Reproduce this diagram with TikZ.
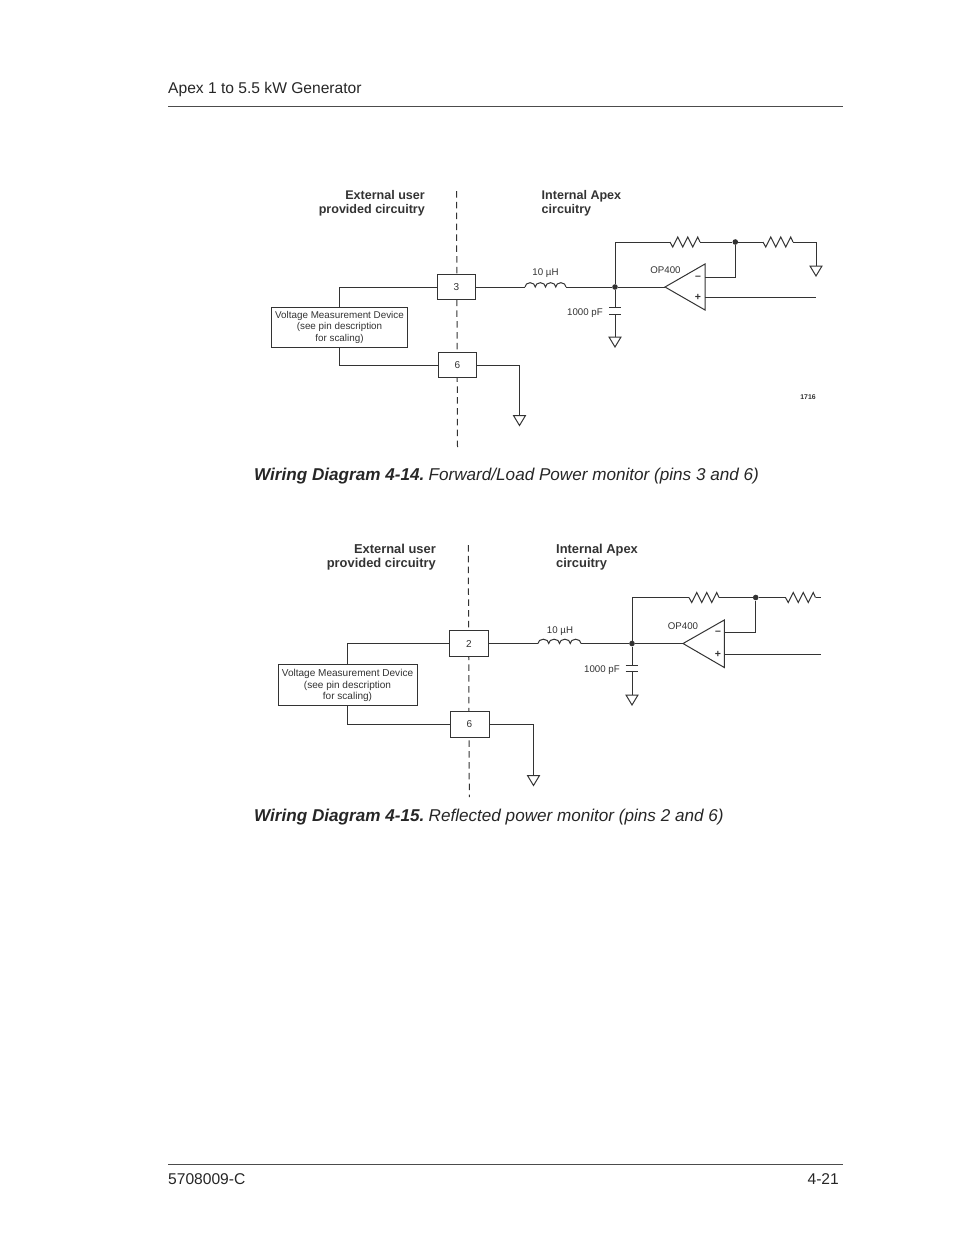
\documentclass[tikz,border=0pt]{standalone}
\usepackage{fontspec}
\setmainfont{Liberation Sans}
\usetikzlibrary{calc}
\definecolor{ink}{gray}{0.2}
\newcommand{\resist}[1]{(#1) -- ++(2.7,5) -- ++(5,-10) -- ++(5,10) -- ++(5,-10) -- ++(5,10) -- ++(5,-10) -- ++(2.3,5)}
\newcommand{\coil}[2]{(#1) arc[start angle=180,end angle=0,x radius=#2pt,y radius=4.3pt] arc[start angle=180,end angle=0,x radius=#2pt,y radius=4.3pt] arc[start angle=180,end angle=0,x radius=#2pt,y radius=4.3pt] arc[start angle=180,end angle=0,x radius=#2pt,y radius=4.3pt]}
\newcommand{\gnd}[1]{(#1) ++(-6,0) -- ++(12,0) -- ++(-6,10) -- cycle}
\tikzset{
 wire/.style={draw=ink,line width=1pt},
 fence/.style={draw=ink,line width=1pt,dash pattern=on 6.5pt off 4.35pt},
 pinbox/.style={draw=ink,line width=1pt,fill=white,inner sep=0pt,font=\fontsize{10}{11}\selectfont,text=ink},
 devbox/.style={draw=ink,line width=1pt,fill=white,inner sep=0pt,align=center,text=ink},
 devtext/.style={inner sep=0pt,align=center,text=ink},
 lab/.style={inner sep=0pt,font=\fontsize{9.7}{11}\selectfont,text=ink},
 sign/.style={inner sep=0pt,font=\fontsize{10.5}{11}\selectfont\bfseries,text=ink},
 headl/.style={inner sep=0pt,font=\fontsize{12.55}{14}\selectfont\bfseries,text=ink},
 headm/.style={inner sep=0pt,font=\fontsize{12.9}{14}\selectfont\bfseries,text=ink},
 pagetext/.style={inner sep=0pt,anchor=west,font=\fontsize{15.6}{17}\selectfont,text=black!85},
 captext/.style={inner sep=0pt,anchor=west,font=\fontsize{17.12}{19}\selectfont\itshape,text=black!85},
 rulex/.style={draw=black!70,line width=0.8pt},
 dot/.style={circle,fill=ink,inner sep=0pt,minimum size=5.6pt},
 opamp/.style={draw=ink,line width=1pt,fill=white}
}
\begin{document}
\begin{tikzpicture}[x=1pt,y=-1pt]
\useasboundingbox (0,0) rectangle (954,1235);
% page furniture
\node[pagetext] (hd) at (168,89) {Apex 1 to 5.5 kW Generator};
\coordinate (hl) at (168,106.5); \coordinate (hr) at (843,106.5);
\draw[rulex] (hl) -- (hr);
\coordinate (fl) at (168,1164); \coordinate (fr) at (843,1164);
\draw[rulex] (fl) -- (fr);
\node[pagetext] (fa) at (168,1179) {5708009-C};
\node[pagetext,anchor=east] (fb) at (839,1179) {4-21};
\node[captext] (c1) at (254,476) {\textbf{Wiring Diagram 4-14.}\hspace{-2pt} Forward/Load Power monitor (pins 3 and 6)};
\node[captext] (c2) at (254,817) {\textbf{Wiring Diagram 4-15.}\hspace{-2pt} Reflected power monitor (pins 2 and 6)};

% ---------- diagram 1
\node[headl,anchor=base east] (e1a) at (425,199.5) {External user};
\node[headl,anchor=base east] (e1b) at (425,213.5) {provided circuitry};
\node[headl,anchor=base west] (i1a) at (541.5,199.5) {Internal Apex};
\node[headl,anchor=base west] (i1b) at (541.5,213.5) {circuitry};
\coordinate (d1t) at (456.5,191); \coordinate (d1b) at (457.5,447);
\draw[fence] (d1t) -- (d1b);
\node[pinbox,minimum width=37.5pt,minimum height=25pt] (p3) at (456.5,287) {3};
\node[pinbox,minimum width=37.5pt,minimum height=25pt] (p6) at (457.3,365.4) {6};
\node[devbox,minimum width=136pt,minimum height=40pt] (vm) at (339.5,327.3) {};
\node[devtext,font=\fontsize{9.85}{11.3}\selectfont] (vmt) at (339.5,327.3) {Voltage Measurement Device\\(see pin description\\for scaling)};
\draw[wire] (p3.west) -| (vm.north);
\draw[wire] (vm.south) |- (p6.west);
\coordinate (g1) at (519.5,415.5);
\draw[wire] (p6.east) -| (g1);
\draw[wire] \gnd{g1};
\coordinate (l1a) at (525,287); \coordinate (l1b) at (566,287);
\draw[wire] (p3.east) -- (l1a);
\draw[wire] \coil{l1a}{5.125};
\node[dot] (n1) at (615,287) {};
\draw[wire] (l1b) -- (n1);
\coordinate (oa1t) at (705,264); \coordinate (oa1b) at (705,310); \coordinate (oa1o) at (665,287);
\draw[opamp] (oa1t) -- (oa1b) -- (oa1o) -- cycle;
\draw[wire] (n1) -- (oa1o);
\coordinate (r1a) at (670,242); \coordinate (r1b) at (700,242);
\coordinate (r2a) at (763,242); \coordinate (r2b) at (793,242);
\node[dot] (n2) at (735.3,242) {};
\draw[wire] (n1) |- (r1a);
\draw[wire] \resist{r1a};
\draw[wire] (r1b) -- (n2) -- (r2a);
\draw[wire] \resist{r2a};
\coordinate (g2) at (816,266);
\draw[wire] (r2b) -| (g2);
\draw[wire] \gnd{g2};
\coordinate (m1) at (705,277); \coordinate (q1) at (705,297); \coordinate (q1e) at (816,297);
\draw[wire] (m1) -| (n2);
\draw[wire] (q1) -- (q1e);
\coordinate (c1t) at (615,307); \coordinate (c1u) at (615,314); \coordinate (g3) at (615,337);
\draw[wire] (n1) -- (c1t);
\draw[wire] (c1u) -- (g3);
\draw[wire] (c1t) ++(-6,0) -- ++(12,0);
\draw[wire] (c1u) ++(-6,0) -- ++(12,0);
\draw[wire] \gnd{g3};
\node[lab] (t1a) at (545.5,273.5) {10 µH};
\node[lab,anchor=east] (t1b) at (603,313) {1000 pF};
\node[lab] (t1c) at (665.5,270) {OP400};
\node[sign] (t1d) at (698,277.5) {–};
\node[sign] (t1e) at (698,297) {+};
\node[inner sep=0pt,font=\fontsize{6.9}{8}\selectfont\bfseries,text=ink] (t1f) at (808,397.5) {1716};

% ---------- diagram 2
\node[headm,anchor=base east] (e2a) at (436,553.5) {External user};
\node[headm,anchor=base east] (e2b) at (436,567.7) {provided circuitry};
\node[headm,anchor=base west] (i2a) at (556,553.5) {Internal Apex};
\node[headm,anchor=base west] (i2b) at (556,567.7) {circuitry};
\coordinate (d2t) at (468.3,545); \coordinate (d2b) at (469.3,797);
\draw[fence] (d2t) -- (d2b);
\node[pinbox,minimum width=39pt,minimum height=26pt] (p2) at (468.8,643.5) {2};
\node[pinbox,minimum width=39pt,minimum height=26pt] (q6) at (469.5,724) {6};
\node[devbox,minimum width=139pt,minimum height=41pt] (vn) at (347.5,684.8) {};
\node[devtext,font=\fontsize{10.05}{11.5}\selectfont] (vnt) at (347.5,685.8) {Voltage Measurement Device\\(see pin description\\for scaling)};
\draw[wire] (p2.west) -| (vn.north);
\draw[wire] (vn.south) |- (q6.west);
\coordinate (g4) at (533.5,775.5);
\draw[wire] (q6.east) -| (g4);
\draw[wire] \gnd{g4};
\coordinate (l2a) at (538,643.5); \coordinate (l2b) at (581,643.5);
\draw[wire] (p2.east) -- (l2a);
\draw[wire] \coil{l2a}{5.375};
\node[dot] (n3) at (632,643.5) {};
\draw[wire] (l2b) -- (n3);
\coordinate (oa2t) at (724.3,620); \coordinate (oa2b) at (724.3,667.5); \coordinate (oa2o) at (683,643.5);
\draw[opamp] (oa2t) -- (oa2b) -- (oa2o) -- cycle;
\draw[wire] (n3) -- (oa2o);
\coordinate (r3a) at (689,597.5); \coordinate (r3b) at (719,597.5);
\coordinate (r4a) at (785.5,597.5); \coordinate (r4b) at (815.5,597.5); \coordinate (r4e) at (820.5,597.5);
\node[dot] (n4) at (755.7,597.5) {};
\draw[wire] (n3) |- (r3a);
\draw[wire] \resist{r3a};
\draw[wire] (r3b) -- (n4) -- (r4a);
\draw[wire] \resist{r4a};
\draw[wire] (r4b) -- (r4e);
\coordinate (m2) at (724.3,632.7); \coordinate (q2) at (724.3,654); \coordinate (q2e) at (821,654);
\draw[wire] (m2) -| (n4);
\draw[wire] (q2) -- (q2e);
\coordinate (c2t) at (632,665.7); \coordinate (c2u) at (632,671); \coordinate (g5) at (632,695);
\draw[wire] (n3) -- (c2t);
\draw[wire] (c2u) -- (g5);
\draw[wire] (c2t) ++(-6.3,0) -- ++(12.6,0);
\draw[wire] (c2u) ++(-6.3,0) -- ++(12.6,0);
\draw[wire] \gnd{g5};
\node[lab] (t2a) at (560,631) {10 µH};
\node[lab,anchor=east] (t2b) at (620,670) {1000 pF};
\node[lab] (t2c) at (683,626) {OP400};
\node[sign] (t2d) at (718,633) {–};
\node[sign] (t2e) at (718,654) {+};
\end{tikzpicture}
\end{document}
